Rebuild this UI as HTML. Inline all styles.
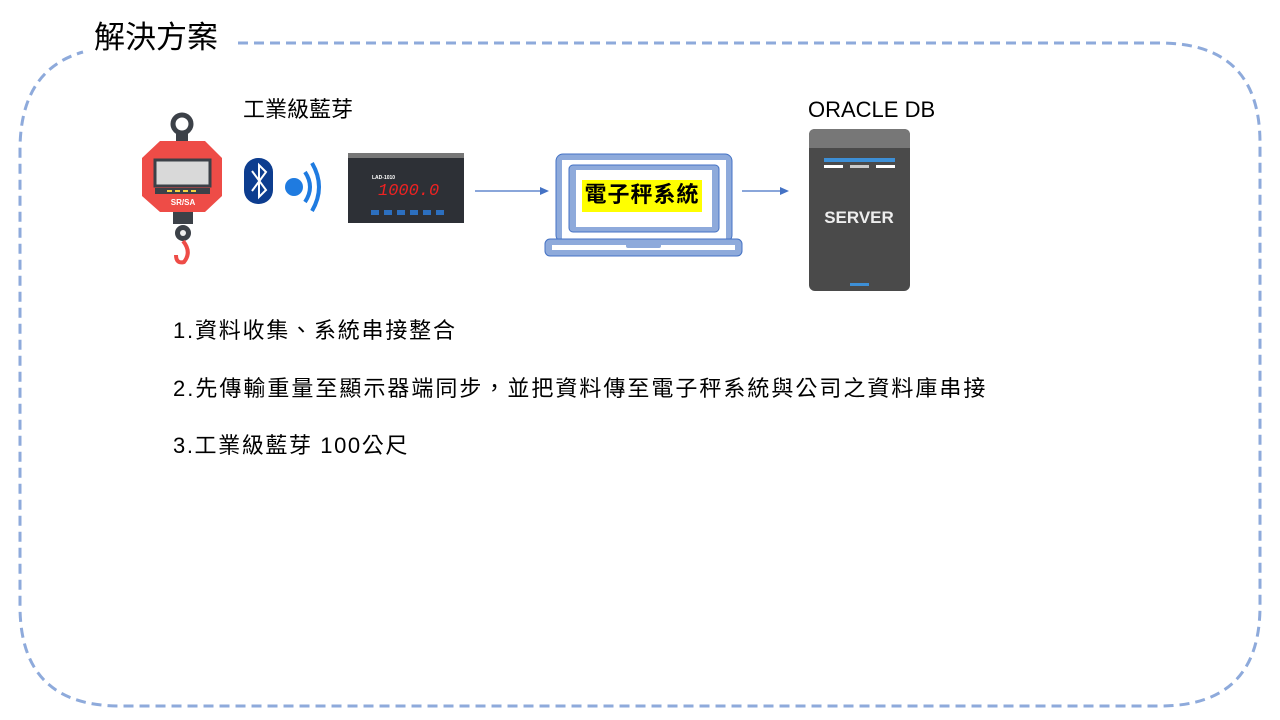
<!DOCTYPE html>
<html><head><meta charset="utf-8">
<style>
body{margin:0;width:1280px;height:720px;background:#fff;position:relative;overflow:hidden;font-family:"Liberation Sans","Noto Sans CJK TC",sans-serif;color:#000}
.t{position:absolute;white-space:nowrap;line-height:1}
</style></head><body>
<svg width="1280" height="720" style="position:absolute;left:0;top:0">
<path d="M238,43 H1160 Q1260,43 1260,143 V606 Q1260,706 1160,706 H120 Q20,706 20,606 V150 Q20,70 83,52" fill="none" stroke="#8eaadb" stroke-width="3" stroke-dasharray="10,6"/>
<circle cx="182" cy="124" r="9" fill="none" stroke="#3c4148" stroke-width="5"/>
<rect x="176" y="132" width="12" height="12" fill="#3c4148"/>
<polygon points="160,141 205,141 222,158 222,196 205,212 160,212 142,196 142,158" fill="#ee4c47"/>
<rect x="155" y="160" width="55" height="26" fill="#d9d9d9" stroke="#3c4148" stroke-width="3"/>
<rect x="155" y="188" width="55" height="6" fill="#3c4148"/>
<g fill="#f5d142"><rect x="167" y="190" width="5" height="2"/><rect x="175" y="190" width="5" height="2"/><rect x="183" y="190" width="5" height="2"/><rect x="191" y="190" width="5" height="2"/></g>
<text x="183" y="205" font-size="8" font-weight="bold" fill="#fff" text-anchor="middle">SR/SA</text>
<rect x="173" y="212" width="20" height="12" fill="#3c4148"/>
<circle cx="183" cy="233" r="8" fill="#3c4148"/>
<circle cx="183" cy="233" r="3" fill="#eee"/>
<path d="M183,241 Q192,252 184,262 Q176,264 176,255" fill="none" stroke="#ee4c47" stroke-width="4"/>
<rect x="244" y="158" width="29" height="46" rx="14" fill="#0d3d8f"/>
<path d="M252,171 L266,190 L259,197 V165 L266,172 L252,191" fill="none" stroke="#fff" stroke-width="2"/>
<circle cx="294" cy="187" r="9" fill="#1f7be0"/>
<path d="M305,172 Q315,187 305,202" fill="none" stroke="#1f7be0" stroke-width="4"/>
<path d="M312,163 Q326,187 312,211" fill="none" stroke="#1f7be0" stroke-width="4"/>
<rect x="348" y="153" width="116" height="70" fill="#2d3036"/>
<rect x="348" y="153" width="116" height="5" fill="#777"/>
<text x="372" y="179" font-size="5" fill="#fff" font-weight="bold">LAD-1010</text>
<text x="378" y="195" font-size="17" fill="#e22" font-family="Liberation Mono,monospace" font-style="italic">1000.0</text>
<g fill="#2c6fbf"><rect x="371" y="210" width="8" height="5"/><rect x="384" y="210" width="8" height="5"/><rect x="397" y="210" width="8" height="5"/><rect x="410" y="210" width="8" height="5"/><rect x="423" y="210" width="8" height="5"/><rect x="436" y="210" width="8" height="5"/></g>
<line x1="475" y1="191" x2="542" y2="191" stroke="#4472c4" stroke-width="1.2"/>
<polygon points="549,191 540,187 540,195" fill="#4472c4"/>
<line x1="742" y1="191" x2="782" y2="191" stroke="#4472c4" stroke-width="1.2"/>
<polygon points="789,191 780,187 780,195" fill="#4472c4"/>
<rect x="556" y="154" width="176" height="88" rx="7" fill="#8eaadb" stroke="#4472c4" stroke-width="1"/>
<rect x="562" y="160" width="164" height="82" fill="#fff"/>
<rect x="569" y="165" width="150" height="67" rx="4" fill="#8eaadb" stroke="#4472c4" stroke-width="1"/>
<rect x="576" y="170" width="136" height="57" fill="#fff"/>
<rect x="545" y="239" width="197" height="17" rx="5" fill="#8eaadb" stroke="#4472c4" stroke-width="1"/>
<rect x="552" y="245" width="183" height="5" fill="#fff"/>
<rect x="626" y="243" width="35" height="5" rx="2" fill="#8eaadb"/>
<rect x="582" y="180" width="120" height="32" fill="#ffff00"/>
<rect x="809" y="129" width="101" height="162" rx="6" fill="#4a4a4a"/>
<path d="M815,129 H904 Q910,129 910,135 V148 H809 V135 Q809,129 815,129Z" fill="#777"/>
<rect x="824" y="158" width="71" height="4" fill="#3d8fd6"/>
<rect x="824" y="165" width="19" height="3" fill="#fff"/>
<rect x="850" y="165" width="19" height="3" fill="#ccc"/>
<rect x="876" y="165" width="19" height="3" fill="#fff"/>
<rect x="850" y="283" width="19" height="3" fill="#3d8fd6"/>
<text x="859" y="223" font-size="17" font-weight="bold" fill="#eee" text-anchor="middle">SERVER</text>
</svg>
<div class="t" style="left:94px;top:22px;font-size:31px">解決方案</div>
<div class="t" style="left:243px;top:99px;font-size:22px">工業級藍芽</div>
<div class="t" style="left:808px;top:99px;font-size:22px">ORACLE DB</div>
<div class="t" style="left:582px;top:184px;width:120px;text-align:center;font-size:22px;font-weight:bold;letter-spacing:1px">電子秤系統</div>
<div class="t" style="left:173px;top:320px;font-size:22px;letter-spacing:1.8px">1.資料收集、系統串接整合</div>
<div class="t" style="left:173px;top:378px;font-size:22px;letter-spacing:2px">2.先傳輸重量至顯示器端同步，並把資料傳至電子秤系統與公司之資料庫串接</div>
<div class="t" style="left:173px;top:435px;font-size:22px;letter-spacing:1.6px">3.工業級藍芽 100公尺</div>
</body></html>
